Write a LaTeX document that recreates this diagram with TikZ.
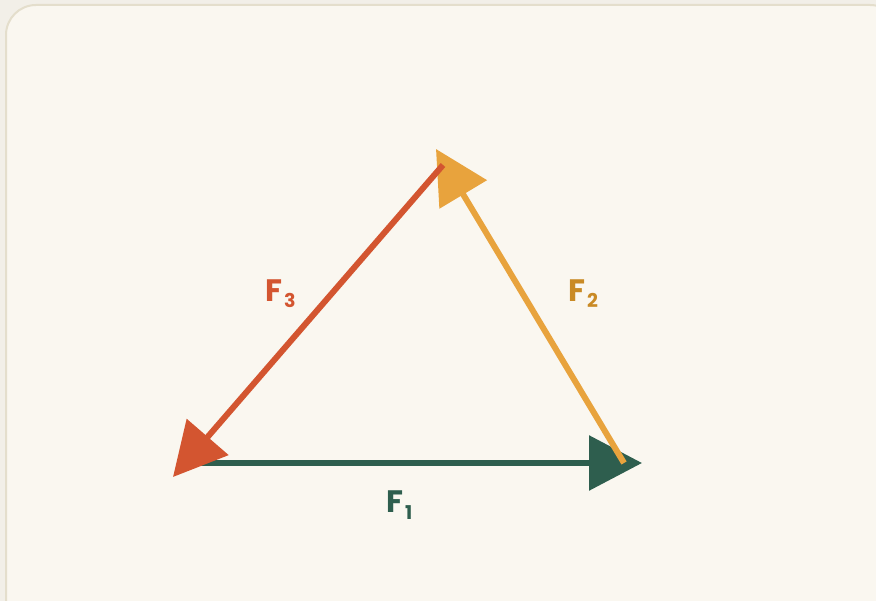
\documentclass[tikz,border=0pt]{standalone}
\usepackage{fontspec}
\setsansfont{Poppins}
\usetikzlibrary{arrows.meta}
\definecolor{outerbg}{HTML}{F2EFE8}
\definecolor{cardbg}{HTML}{FAF7F0}
\definecolor{cardline}{HTML}{E4DECC}
\definecolor{fgreen}{HTML}{2E5E4E}
\definecolor{forange}{HTML}{E8A33D}
\definecolor{forangetxt}{HTML}{C98A25}
\definecolor{fred}{HTML}{D35530}
\tikzset{
  force/.style={line width=6pt, -{Triangle[length=53pt,width=54pt]}},
  flabel/.style={font=\sffamily\bfseries\fontsize{31}{31}\selectfont, inner sep=0pt, anchor=base west}
}
\newcommand{\fsub}[1]{\kern2pt\raisebox{-6pt}{\fontsize{19}{19}\selectfont #1}}
\begin{document}
\begin{tikzpicture}[x=1pt,y=-1pt]
\useasboundingbox (0,0) rectangle (876,601);
\fill[outerbg] (0,0) rectangle (876,601);
\filldraw[fill=cardbg, draw=cardline, line width=2pt, rounded corners=30pt] (6,5) rectangle (900,630);
\coordinate (A) at (197,463);
\coordinate (B) at (624,463);
\coordinate (C) at (443,165);
\coordinate (T1) at (642,463);
\coordinate (T2) at (436,149);
\coordinate (T3) at (173,477);
\draw[force, fgreen] (A) -- (T1);
\draw[force, forange] (B) -- (T2);
\draw[force, fred] (C) -- (T3);
\node[flabel, text=fgreen] (L1) at (386,513) {F\fsub{1}};
\node[flabel, text=forangetxt] (L2) at (568,302) {F\fsub{2}};
\node[flabel, text=fred] (L3) at (265,302) {F\fsub{3}};
\end{tikzpicture}
\end{document}
